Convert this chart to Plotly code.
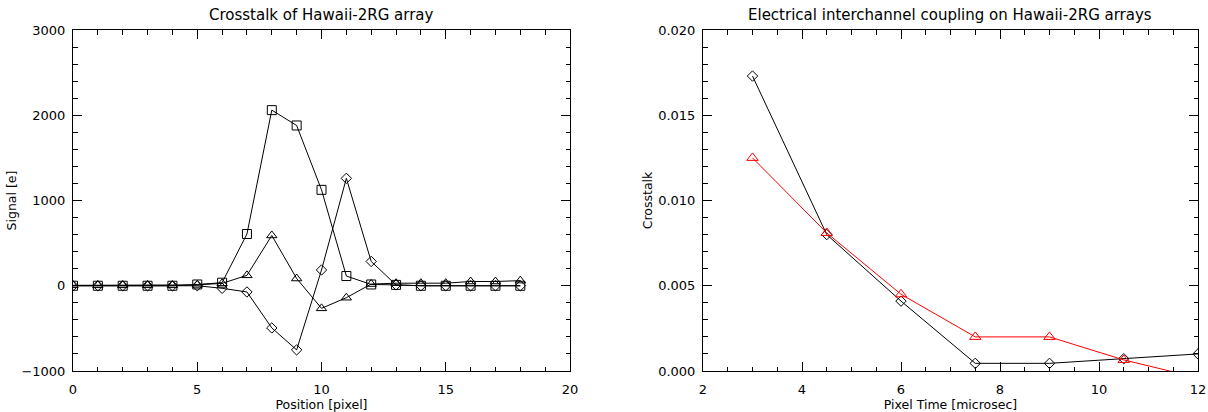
import plotly.graph_objects as go

# Left panel data
position = list(range(19))
sig_square = [0, 0, 0, 0, 0, 15, 36, 607, 2060, 1880, 1125, 114, 15, 10, 0, 0, 0, 0, 0]
sig_triangle = [5, 5, 5, 5, 5, 10, 28, 122, 590, 85, -265, -140, 20, 30, 30, 30, 50, 50, 60]
sig_diamond = [0, 0, 0, 0, 0, 0, -30, -73, -495, -752, 185, 1260, 285, 10, 0, 0, 0, 0, 0]

# Right panel data
pixel_time = [3, 4.5, 6, 7.5, 9, 10.5, 12]
xt_black = [0.0173, 0.0080, 0.0041, 0.00045, 0.00045, 0.00072, 0.0010]
xt_red = [0.0125, 0.0081, 0.0045, 0.0020, 0.0020, 0.00065, -0.0004]

FONT = "DejaVu Sans"
W, H = 1208, 412

def px_x(p):
    return p / W

def px_y(p):
    return 1 - p / H

fig = go.Figure()

line_k = dict(color="black", width=1)
fig.add_trace(go.Scatter(x=position, y=sig_square, mode="lines+markers", line=line_k,
                         marker=dict(symbol="square-open", size=9, color="black", line=dict(width=1)),
                         xaxis="x", yaxis="y", showlegend=False))
fig.add_trace(go.Scatter(x=position, y=sig_triangle, mode="lines+markers", line=line_k,
                         marker=dict(symbol="triangle-up-open", size=9, color="black", line=dict(width=1)),
                         xaxis="x", yaxis="y", showlegend=False))
fig.add_trace(go.Scatter(x=position, y=sig_diamond, mode="lines+markers", line=line_k,
                         marker=dict(symbol="diamond-open", size=8, color="black", line=dict(width=1)),
                         xaxis="x", yaxis="y", showlegend=False))

fig.add_trace(go.Scatter(x=pixel_time, y=xt_black, mode="lines+markers", line=line_k,
                         marker=dict(symbol="diamond-open", size=8, color="black", line=dict(width=1)),
                         xaxis="x2", yaxis="y2", showlegend=False))
fig.add_trace(go.Scatter(x=pixel_time, y=xt_red, mode="lines+markers", line=dict(color="red", width=1),
                         marker=dict(symbol="triangle-up-open", size=10, color="red", line=dict(width=1)),
                         xaxis="x2", yaxis="y2", showlegend=False))

def ax(**kw):
    base = dict(showgrid=False, zeroline=False, showline=True, linecolor="black", linewidth=1,
                mirror="allticks", ticks="inside", ticklen=9, tickwidth=1, tickcolor="black",
                automargin=False,
                tickfont=dict(family=FONT, size=13, color="black"),
                title_font=dict(family=FONT, size=12.5, color="black"))
    base.update(kw)
    return base

ydom = [px_y(371), px_y(30)]
fig.update_layout(
    width=W, height=H, margin=dict(l=0, r=0, t=0, b=0),
    paper_bgcolor="white", plot_bgcolor="white",
    xaxis=ax(domain=[px_x(73), px_x(570)], range=[0, 20], dtick=5, tick0=0, ticklabelstandoff=6,
             minor=dict(dtick=1, ticklen=4.5, ticks="inside", tickcolor="black"),
             title=dict(text="Position [pixel]", standoff=2), anchor="y"),
    yaxis=ax(domain=ydom, range=[-1000, 3000], dtick=1000, tick0=0, ticklabelstandoff=4,
             minor=dict(dtick=200, ticklen=4.5, ticks="inside", tickcolor="black"),
             title=dict(text="Signal [e]", standoff=2), anchor="x"),
    xaxis2=ax(domain=[px_x(703), px_x(1198)], range=[2, 12], dtick=2, tick0=0, ticklabelstandoff=6,
              minor=dict(dtick=0.5, ticklen=4.5, ticks="inside", tickcolor="black"),
              title=dict(text="Pixel Time [microsec]", standoff=2), anchor="y2"),
    yaxis2=ax(domain=ydom, range=[0, 0.020], dtick=0.005, tick0=0, tickformat=".3f", ticklabelstandoff=4,
              minor=dict(dtick=0.001, ticklen=4.5, ticks="inside", tickcolor="black"),
              title=dict(text="Crosstalk", standoff=2), anchor="x2"),
    annotations=[
        dict(text="Crosstalk of Hawaii-2RG array", x=px_x((73 + 570) / 2), y=px_y(15),
             xref="paper", yref="paper", showarrow=False, xanchor="center", yanchor="middle",
             font=dict(family=FONT, size=15, color="black")),
        dict(text="Electrical interchannel coupling on Hawaii-2RG arrays", x=px_x((703 + 1198) / 2),
             y=px_y(15), xref="paper", yref="paper", showarrow=False, xanchor="center",
             yanchor="middle", font=dict(family=FONT, size=15, color="black")),
    ],
)

fig.write_html(
    "out.html",
    config={"displayModeBar": False},
    post_script="document.body.style.margin='0';document.body.style.overflow='hidden';",
)
